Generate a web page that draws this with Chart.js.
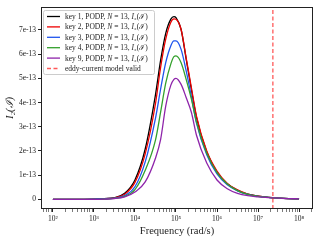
<!DOCTYPE html>
<html>
<head>
<meta charset="utf-8">
<script src="https://cdn.jsdelivr.net/npm/chart.js@4/dist/chart.umd.min.js"></script>
<style>
  html, body { margin: 0; padding: 0; background: #fff; }
  #wrap { width: 320px; height: 240px; position: relative; }
</style>
</head>
<body>
<div id="wrap"><canvas id="chart"></canvas></div>
<script>
// frequency grid as log10(rad/s)
const logFreq = [2, 2.25, 2.5, 2.75, 3, 3.25, 3.5, 3.75, 4, 4.25, 4.5,
    4.625, 4.75, 4.875, 4.95, 5, 5.125, 5.25, 5.375, 5.5,
    5.75, 6, 6.25, 6.5, 6.75, 7, 7.25, 7.5, 7.75, 8];

// I2 values, in units of 1e-13
const key1 = [0, 0, 0, 0, 0.01, 0.03, 0.07, 0.25, 0.80, 2.08, 4.32,
    5.74, 6.86, 7.45, 7.55, 7.51, 7.02, 5.78, 4.55, 3.38,
    1.96, 1.13, 0.64, 0.37, 0.21, 0.13, 0.08, 0.05, 0.03, 0.02];
const key2 = [0, 0, 0, 0, 0.01, 0.02, 0.06, 0.21, 0.70, 1.88, 3.95,
    5.45, 6.62, 7.32, 7.46, 7.44, 7.02, 5.83, 4.62, 3.44,
    2.00, 1.17, 0.66, 0.39, 0.22, 0.13, 0.08, 0.05, 0.03, 0.02];
const key3 = [0, 0, 0, 0, 0.01, 0.02, 0.05, 0.16, 0.52, 1.55, 3.35,
    4.55, 5.65, 6.35, 6.55, 6.55, 6.20, 5.30, 4.25, 3.15,
    1.84, 1.05, 0.60, 0.35, 0.20, 0.12, 0.08, 0.05, 0.03, 0.02];
const key4 = [0, 0, 0, 0, 0, 0.01, 0.04, 0.12, 0.40, 1.20, 2.45,
    3.60, 4.80, 5.60, 5.90, 5.93, 5.65, 4.95, 4.15, 3.20,
    1.90, 1.10, 0.63, 0.36, 0.20, 0.12, 0.08, 0.05, 0.03, 0.02];
const key9 = [0, 0, 0, 0, 0, 0.01, 0.03, 0.10, 0.30, 0.72, 1.70,
    2.47, 3.85, 4.72, 4.96, 5.00, 4.75, 4.20, 3.60, 2.65,
    1.50, 0.80, 0.44, 0.25, 0.15, 0.10, 0.07, 0.05, 0.03, 0.02];

const seriesNames = ['key 1', 'key 2', 'key 3', 'key 4', 'key 9'];
const seriesColors = ['#000000', '#ee0000', '#1f55ee', '#33a02c', '#8e24aa'];
const validFreq = 2.3e7;     // eddy-current limit
const yTickVals = [0, 1, 2, 3, 4, 5, 6, 7];
const xTickExps = [2, 3, 4, 5, 6, 7, 8];
const UNIT = 1e-13;

const freqs = logFreq.map(e => Math.pow(10, e));
const xMin = Math.pow(10, 1.71), xMax = Math.pow(10, 8.34);
const yMin = -0.4 * UNIT, yMax = 7.95 * UNIT;

const sup = { '0': '⁰', '1': '¹', '2': '²', '3': '³', '4': '⁴', '5': '⁵', '6': '⁶', '7': '⁷', '8': '⁸', '9': '⁹' };
const SERIF = "'Liberation Serif', 'DejaVu Serif', serif";

const allSeries = [key1, key2, key3, key4, key9];
const datasets = allSeries.map((vals, i) => ({
    label: seriesNames[i],
    data: vals.map((v, j) => ({ x: freqs[j], y: v * UNIT })),
    borderColor: seriesColors[i],
    borderWidth: 1.3,
    pointRadius: 0,
    fill: false,
    cubicInterpolationMode: 'monotone',
    order: 10 - i
}));
datasets.push({
    label: 'eddy-current model valid',
    data: [{ x: validFreq, y: yMin }, { x: validFreq, y: yMax }],
    borderColor: 'rgba(255, 0, 0, 0.65)',
    borderWidth: 1.3,
    borderDash: [4, 2.5],
    pointRadius: 0,
    order: 1
});

// frame + legend, matplotlib style
const framePlugin = {
    id: 'frame',
    afterDraw(chart) {
        const { ctx, chartArea: a } = chart;
        ctx.save();
        ctx.strokeStyle = '#222';
        ctx.lineWidth = 1;
        ctx.strokeRect(Math.round(a.left) + 0.5, Math.round(a.top) + 0.5,
            Math.round(a.right - a.left) - 1, Math.round(a.bottom - a.top) - 1);

        // legend box
        const bx = 43, by = 10, bw = 111, bh = 64;
        ctx.fillStyle = 'rgba(255,255,255,0.85)';
        ctx.strokeStyle = '#cccccc';
        ctx.beginPath();
        ctx.roundRect(bx + 0.5, by + 0.5, bw, bh, 2);
        ctx.fill();
        ctx.stroke();

        ctx.textBaseline = 'middle';
        chart.data.datasets.forEach((ds, i) => {
            const y = 16.5 + 10.4 * i;
            ctx.strokeStyle = ds.borderColor;
            ctx.lineWidth = 1.3;
            ctx.setLineDash(ds.borderDash || []);
            ctx.beginPath();
            ctx.moveTo(47, y);
            ctx.lineTo(60, y);
            ctx.stroke();
            ctx.setLineDash([]);

            const runs = i < seriesNames.length
                ? [[ds.label + ', PODP, ', ''], ['N', 'italic '], [' = 13, ', ''], ['I', 'italic '], ['₂(ℐ)', '']]
                : [[ds.label, '']];
            let x = 65;
            ctx.fillStyle = '#222';
            runs.forEach(([t, style]) => {
                ctx.font = style + '7.5px ' + SERIF;
                ctx.fillText(t, x, y + 0.5);
                x += ctx.measureText(t).width;
            });
        });
        ctx.restore();
    }
};

new Chart(document.getElementById('chart'), {
    type: 'line',
    data: { datasets },
    plugins: [framePlugin],
    options: {
        responsive: true,
        maintainAspectRatio: false,
        animation: false,
        layout: { padding: { top: 7, right: 7, left: 4, bottom: 0 } },
        plugins: { legend: { display: false }, tooltip: { enabled: false } },
        scales: {
            x: {
                type: 'logarithmic',
                min: xMin,
                max: xMax,
                afterBuildTicks: (scale) => {
                    const ticks = [];
                    for (let e = 1; e <= 8; e++) {
                        for (let m = 1; m <= 9; m++) {
                            const v = m * Math.pow(10, e);
                            if (v >= xMin && v <= xMax) ticks.push({ value: v, major: m === 1 });
                        }
                    }
                    scale.ticks = ticks;
                },
                afterFit: (scale) => { scale.height = 31; },
                grid: {
                    drawOnChartArea: false,
                    drawTicks: true,
                    tickLength: 3,
                    tickColor: '#222',
                    tickWidth: (c) => (c.tick && c.tick.major ? 1 : 0.6)
                },
                border: { display: false },
                ticks: {
                    autoSkip: false,
                    maxRotation: 0,
                    padding: 3,
                    color: '#222',
                    font: { family: SERIF, size: 7.5 },
                    callback: function (value) {
                        const e = Math.round(Math.log10(value));
                        if (xTickExps.includes(e) && Math.abs(value - Math.pow(10, e)) < 1e-6 * value) {
                            return '10' + String(e).split('').map(d => sup[d]).join('');
                        }
                        return '';
                    }
                },
                title: {
                    display: true,
                    text: 'Frequency (rad/s)',
                    color: '#222',
                    font: { family: SERIF, size: 10.5 },
                    padding: { top: 0, bottom: 2 }
                }
            },
            y: {
                type: 'linear',
                min: yMin,
                max: yMax,
                afterBuildTicks: (scale) => {
                    scale.ticks = yTickVals.map(v => ({ value: v * UNIT }));
                },
                afterFit: (scale) => { scale.width = 37; },
                grid: {
                    drawOnChartArea: false,
                    drawTicks: true,
                    tickLength: 3,
                    tickColor: '#222'
                },
                border: { display: false },
                ticks: {
                    padding: 2,
                    color: '#222',
                    font: { family: SERIF, size: 7.5 },
                    callback: (value) => {
                        const n = Math.round(value / UNIT);
                        return n === 0 ? '0' : n + 'e-13';
                    }
                },
                title: {
                    display: true,
                    text: 'I₂(ℐ)',
                    color: '#222',
                    font: { family: SERIF, size: 10.5, style: 'italic' },
                    padding: { top: 0, bottom: 1 }
                }
            }
        }
    }
});
</script>
</body>
</html>
